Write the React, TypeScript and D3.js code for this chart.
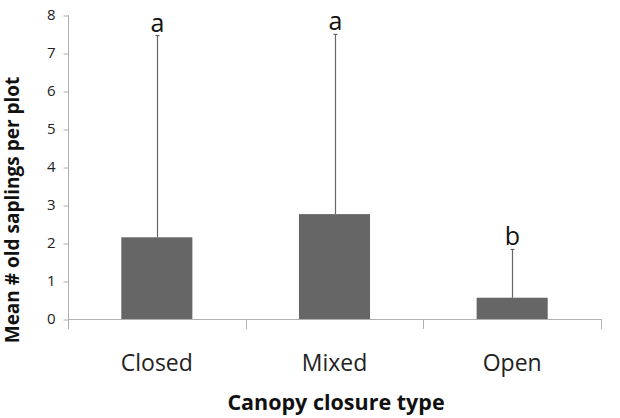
import React, { useEffect, useRef } from 'react';
import * as d3 from 'd3';

// chart data
const categories = ['Closed', 'Mixed', 'Open'];
const means = [2.15, 2.76, 0.56];
const upperErr = [7.46, 7.49, 1.83]; // top of error bar
const letters = ['a', 'a', 'b'];
const yTicks = [0, 1, 2, 3, 4, 5, 6, 7, 8];

const W = 620;
const H = 418;
const FONT = '"Open Sans", sans-serif';

const draw = (node: SVGSVGElement) => {
  const svg = d3.select(node);
  svg.selectAll('*').remove();

  const left = 68, right = 601, top = 15, bottom = 319;

  const x = d3.scaleBand<string>()
    .domain(categories)
    .range([left, right])
    .paddingInner(0.6)
    .paddingOuter(0.3);

  const y = d3.scaleLinear().domain([0, 8]).range([bottom, top]);

  const axisColor = '#b0b0b0';
  const barColor = '#666666';

  // y axis
  const yAxis = svg.append('g')
    .attr('transform', `translate(${left + 0.5},0)`)
    .call(d3.axisLeft(y).tickValues(yTicks).tickSize(5).tickPadding(8).tickFormat(d3.format('d')));
  yAxis.select('.domain').remove();
  yAxis.selectAll('line').attr('stroke', axisColor).attr('transform', 'translate(0,0.5)');
  yAxis.selectAll('text')
    .attr('fill', '#222')
    .style('font-family', FONT)
    .style('font-size', '15px');
  yAxis.append('line')
    .attr('x1', 0).attr('x2', 0)
    .attr('y1', top).attr('y2', bottom + 10)
    .attr('stroke', axisColor);

  // x axis line + boundary ticks
  const xg = svg.append('g');
  xg.append('line')
    .attr('x1', left).attr('x2', right)
    .attr('y1', bottom + 0.5).attr('y2', bottom + 0.5)
    .attr('stroke', axisColor);
  const step = x.step();
  const bounds = d3.range(categories.length + 1).map(i => left + i * step);
  xg.selectAll('.xtick')
    .data(bounds)
    .enter().append('line')
    .attr('class', 'xtick')
    .attr('x1', d => Math.round(d) + 0.5)
    .attr('x2', d => Math.round(d) + 0.5)
    .attr('y1', bottom)
    .attr('y2', bottom + 10)
    .attr('stroke', axisColor);

  // category labels
  xg.selectAll('.xlab')
    .data(categories)
    .enter().append('text')
    .attr('class', 'xlab')
    .attr('x', d => (x(d) as number) + x.bandwidth() / 2)
    .attr('y', 371)
    .attr('text-anchor', 'middle')
    .attr('fill', '#222')
    .style('font-family', FONT)
    .style('font-size', '23px')
    .text(d => d);

  // error bars
  const eb = svg.append('g');
  categories.forEach((c, i) => {
    const cx = Math.round((x(c) as number) + x.bandwidth() / 2) + 0.5;
    eb.append('line')
      .attr('x1', cx).attr('x2', cx)
      .attr('y1', y(means[i])).attr('y2', y(upperErr[i]))
      .attr('stroke', barColor).attr('stroke-width', 1.2);
    eb.append('line')
      .attr('x1', cx - 2).attr('x2', cx + 2)
      .attr('y1', y(upperErr[i])).attr('y2', y(upperErr[i]))
      .attr('stroke', barColor).attr('stroke-width', 1.2);
    eb.append('text')
      .attr('x', cx)
      .attr('y', y(upperErr[i]) - 4)
      .attr('text-anchor', 'middle')
      .attr('fill', '#111')
      .style('font-family', FONT)
      .style('font-size', '25px')
      .text(letters[i]);
  });

  // bars
  svg.append('g')
    .selectAll('rect')
    .data(means)
    .enter().append('rect')
    .attr('x', (d, i) => x(categories[i]) as number)
    .attr('y', d => y(d))
    .attr('width', x.bandwidth())
    .attr('height', d => y(0) - y(d))
    .attr('fill', barColor);

  // axis titles
  svg.append('text')
    .attr('x', 336)
    .attr('y', 410)
    .attr('text-anchor', 'middle')
    .attr('fill', '#111')
    .style('font-family', FONT)
    .style('font-weight', 'bold')
    .style('font-size', '21.5px')
    .text('Canopy closure type');

  svg.append('text')
    .attr('transform', 'translate(19,210) rotate(-90)')
    .attr('text-anchor', 'middle')
    .attr('fill', '#111')
    .style('font-family', FONT)
    .style('font-weight', 'bold')
    .style('font-size', '19px')
    .text('Mean # old saplings per plot');
};

const App = () => {
  const ref = useRef<SVGSVGElement>(null);
  useEffect(() => {
    if (ref.current) draw(ref.current);
  }, []);
  return (
    <svg ref={ref} width={W} height={H}
      style={{ position: 'absolute', left: 0, top: 0, background: '#fff' }} />
  );
};

export default App;
